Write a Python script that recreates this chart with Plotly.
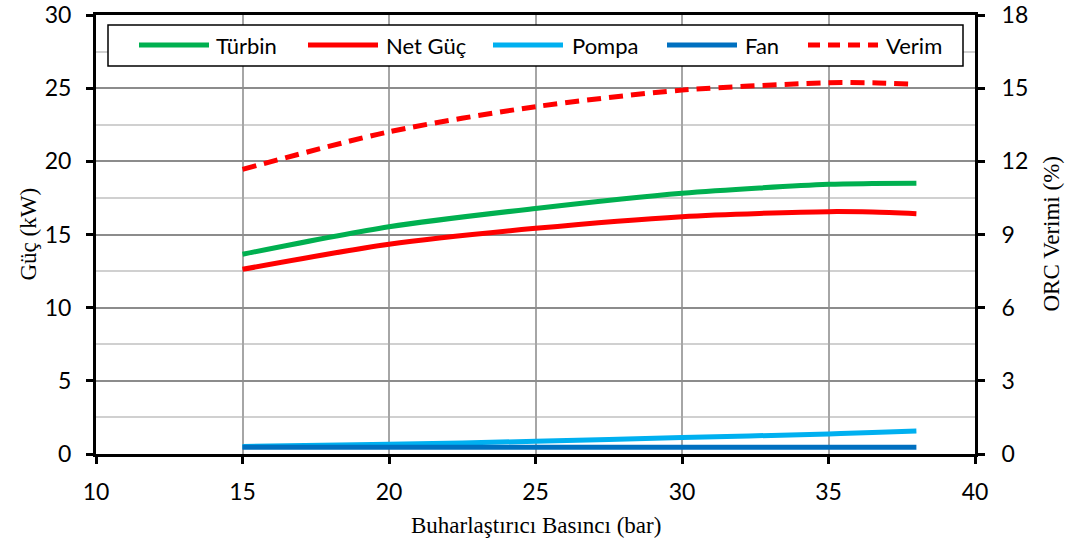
import plotly.graph_objects as go

# Evaporator pressure (bar)
pressure = [15, 20, 25, 30, 35, 36.5, 38]

# Power components (kW)
turbine = [13.65, 15.53, 16.78, 17.82, 18.43, 18.48, 18.5]
net_power = [12.62, 14.33, 15.42, 16.22, 16.56, 16.53, 16.42]
pump = [0.52, 0.66, 0.87, 1.12, 1.37, 1.47, 1.58]
fan = [0.46, 0.46, 0.46, 0.46, 0.46, 0.46, 0.46]

# ORC efficiency (%)
efficiency = [11.67, 13.21, 14.24, 14.92, 15.22, 15.22, 15.16]

series = [
    ("Türbin", turbine, "#00b050", "solid", "y"),
    ("Net Güç", net_power, "#ff0000", "solid", "y"),
    ("Pompa", pump, "#00b0f0", "solid", "y"),
    ("Fan", fan, "#0070c0", "solid", "y"),
    ("Verim", efficiency, "#ff0000", "14px,8px", "y2"),
]

TICK_FONT = dict(family="Lato, 'Open Sans', sans-serif", size=23, color="#000")
TITLE_FONT = dict(family="'Liberation Serif', 'Times New Roman', serif", size=23, color="#000")

fig = go.Figure()
for name, vals, color, dash, axis in series:
    fig.add_trace(go.Scatter(
        x=pressure, y=vals, name=name, mode="lines", yaxis=axis,
        line=dict(color=color, width=5, dash=dash, shape="spline", smoothing=0.8),
        showlegend=False,
    ))

# Legend drawn as a framed row of line samples and labels
W, H = 1067, 544
L, R, T, B = 96, 92, 15, 90
pw, ph = W - L - R, H - T - B


def px(x):
    return (x - L) / pw


def py(y):
    return (H - B - y) / ph


shapes = [dict(type="rect", xref="paper", yref="paper",
               x0=px(108), x1=px(963), y0=py(66), y1=py(25),
               line=dict(color="#000", width=1.5), fillcolor="white", layer="above")]
annotations = []
legend_pos = [(139, 214), (308, 384), (493, 570), (667, 743), (808, 884)]
for (name, _, color, dash, _), (lx, tx) in zip(series, legend_pos):
    shapes.append(dict(type="line", xref="paper", yref="paper",
                       x0=px(lx), x1=px(lx + 70), y0=py(45), y1=py(45),
                       line=dict(color=color, width=5,
                                 dash="12px,8px" if dash != "solid" else "solid"),
                       layer="above"))
    annotations.append(dict(text=name, xref="paper", yref="paper",
                            x=px(tx), y=py(45), xanchor="left", yanchor="middle",
                            showarrow=False, font=dict(family=TICK_FONT["family"], size=22, color="#000")))

# Axis titles placed at fixed offsets from the plot frame
annotations += [
    dict(text="Buharlaştırıcı Basıncı (bar)", xref="paper", yref="paper",
         x=0.5, y=py(525), xanchor="center", yanchor="middle",
         showarrow=False, font=TITLE_FONT),
    dict(text="Güç (kW)", xref="paper", yref="paper",
         x=px(28), y=0.5, xanchor="center", yanchor="middle", textangle=-90,
         showarrow=False, font=TITLE_FONT),
    dict(text="ORC Verimi (%)", xref="paper", yref="paper",
         x=px(1051), y=0.5, xanchor="center", yanchor="middle", textangle=-90,
         showarrow=False, font=TITLE_FONT),
]

fig.update_layout(
    width=W, height=H,
    margin=dict(l=L, r=R, t=T, b=B),
    paper_bgcolor="white", plot_bgcolor="white",
    shapes=shapes, annotations=annotations,
    xaxis=dict(
        range=[10, 40], dtick=5, tick0=10, automargin=False,
        showline=True, linecolor="#000", linewidth=3, mirror=True,
        ticks="outside", ticklen=7, tickwidth=3, tickcolor="#000",
        ticklabelstandoff=8,
        showgrid=True, gridcolor="#a6a6a6", gridwidth=1.5,
        zeroline=False, tickfont=TICK_FONT,
    ),
    yaxis=dict(
        range=[0, 30], dtick=5, automargin=False,
        showline=True, linecolor="#000", linewidth=3,
        ticks="outside", ticklen=7, tickwidth=3, tickcolor="#000",
        ticklabelstandoff=10,
        showgrid=True, gridcolor="#8c8c8c", gridwidth=1.5,
        minor=dict(dtick=2.5, showgrid=True, gridcolor="#d0d0d0", gridwidth=1.5, ticks=""),
        zeroline=False, tickfont=TICK_FONT,
    ),
    yaxis2=dict(
        range=[0, 18], dtick=3, overlaying="y", side="right", automargin=False,
        showline=True, linecolor="#000", linewidth=3,
        ticks="outside", ticklen=7, tickwidth=3, tickcolor="#000",
        ticklabelstandoff=12,
        showgrid=False, zeroline=False, tickfont=TICK_FONT,
    ),
)

fig.write_html("out.html")
